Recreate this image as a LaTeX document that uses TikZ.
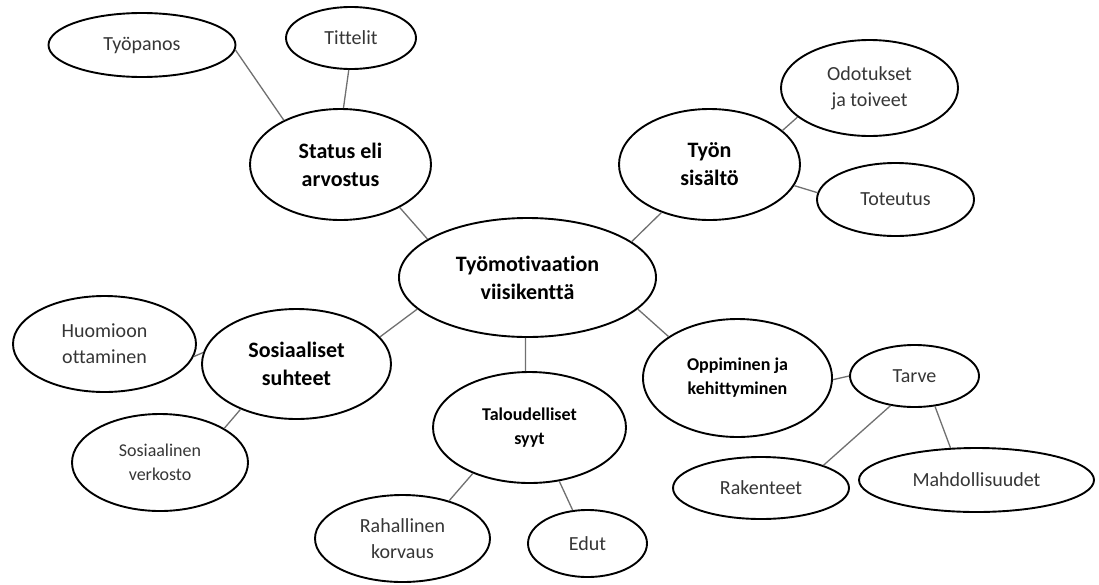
\documentclass[tikz,border=0pt]{standalone}
\usepackage{fontspec}
\setmainfont[Ligatures={NoCommon,NoRequired,NoContextual}]{Carlito}
\usetikzlibrary{shapes.geometric}
\definecolor{leaftext}{HTML}{363636}
\definecolor{linkgray}{HTML}{707070}
\tikzset{
  oval/.style={ellipse, draw=black, line width=1.9pt, inner sep=0pt, align=center, fill=white},
  mainoval/.style={oval, font=\fontsize{22}{28}\selectfont\bfseries, text=black},
  midoval/.style={oval, font=\fontsize{18}{24}\selectfont\bfseries, text=black},
  leafoval/.style={oval, font=\fontsize{20}{26}\selectfont, text=leaftext},
  smallleaf/.style={oval, font=\fontsize{18}{24}\selectfont, text=leaftext},
  link/.style={draw=linkgray, line width=1.3pt}
}
\begin{document}
\begin{tikzpicture}[x=1pt,y=-1pt]
\useasboundingbox (0,0) rectangle (1099,584);
\fill[white] (0,0) rectangle (1099,584);

% main nodes
\node[mainoval, minimum width=257pt, minimum height=119pt] (center) at (527.5,277.5) {Työmotivaation\\viisikenttä};
\node[mainoval, minimum width=181pt, minimum height=111pt] (status) at (340.5,164.5) {Status eli\\arvostus};
\node[mainoval, minimum width=181pt, minimum height=111pt] (tyon) at (709.5,164.5) {Työn\\sisältö};
\node[mainoval, minimum width=189pt, minimum height=110pt] (sos) at (296.5,364) {Sosiaaliset\\suhteet};
\node[midoval, minimum width=193pt, minimum height=111pt] (talo) at (529.5,427.5) {Taloudelliset\\syyt};
\node[midoval, minimum width=189pt, minimum height=118pt] (opp) at (737.5,378) {Oppiminen ja\\kehittyminen};

% leaves
\node[leafoval, minimum width=187pt, minimum height=64pt] (tyopanos) at (142,45) {Työpanos};
\node[leafoval, minimum width=130pt, minimum height=62pt] (tittelit) at (351,38) {Tittelit};
\node[leafoval, minimum width=177pt, minimum height=96pt] (odotukset) at (869.5,88) {Odotukset\\ja toiveet};
\node[leafoval, minimum width=157pt, minimum height=73pt] (toteutus) at (895.5,199.5) {Toteutus};
\node[leafoval, minimum width=183pt, minimum height=96pt] (huomioon) at (104.5,344) {Huomioon\\ottaminen};
\node[smallleaf, minimum width=176pt, minimum height=97pt] (verkosto) at (160,462.5) {Sosiaalinen\\verkosto};
\node[leafoval, minimum width=175pt, minimum height=87pt] (raha) at (402.5,538.5) {Rahallinen\\korvaus};
\node[leafoval, minimum width=119pt, minimum height=67pt] (edut) at (587.5,543.5) {Edut};
\node[leafoval, minimum width=129pt, minimum height=62pt] (tarve) at (914.5,376) {Tarve};
\node[leafoval, minimum width=176pt, minimum height=62pt] (rakenteet) at (761,488) {Rakenteet};
\node[leafoval, minimum width=235pt, minimum height=64pt] (mahd) at (976.5,480) {Mahdollisuudet};

% connectors
\draw[link] (tyopanos.-3) -- (status.142.7);
\draw[link] (tittelit.-94) -- (status.87.5);
\draw[link] (status.-36.6) -- (center.159.7);
\draw[link] (tyon.-135) -- (center.19.6);
\draw[link] (tyon.25.5) -- (odotukset.-158.2);
\draw[link] (tyon.-14.7) -- (toteutus.175.3);
\draw[link] (center.196.3) -- (sos.18.9);
\draw[link] (huomioon.-8) -- (sos.173);
\draw[link] (sos.-141.3) -- (verkosto.28);
\draw[link] (center.-92) -- (talo.94);
\draw[link] (talo.-141.5) -- (raha.39.3);
\draw[link] (talo.-61.5) -- (edut.114.8);
\draw[link] (center.-16) -- (opp.149);
\draw[link] (opp.-1) -- (tarve.180);
\draw[link] (tarve.-129.4) -- (rakenteet.20.6);
\draw[link] (tarve.-56.5) -- (mahd.129.6);
\end{tikzpicture}
\end{document}
